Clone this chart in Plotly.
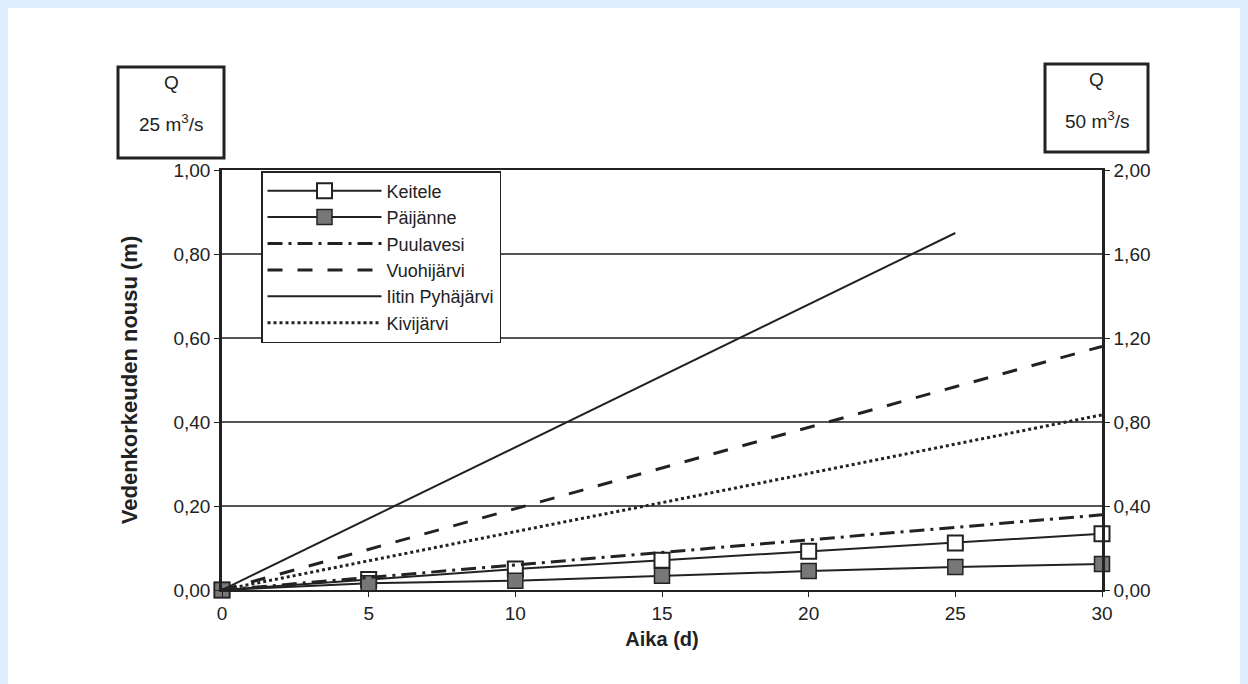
import plotly.graph_objects as go

days = [0, 5, 10, 15, 20, 25, 30]
keitele = [0.0, 0.025, 0.05, 0.071, 0.092, 0.112, 0.134]
paijanne = [0.0, 0.016, 0.022, 0.034, 0.045, 0.055, 0.062]
puulavesi = [0.0, 0.03, 0.06, 0.09, 0.12, 0.15, 0.179]
vuohijarvi = [0.0, 0.097, 0.194, 0.29, 0.387, 0.484, 0.58]
pyh_days = [0, 5, 10, 15, 20, 25]
pyhajarvi = [0.0, 0.17, 0.34, 0.51, 0.68, 0.85]
kivijarvi = [0.0, 0.07, 0.139, 0.208, 0.278, 0.347, 0.417]

left_ticks = [0, 0.2, 0.4, 0.6, 0.8, 1.0]
right_ticks = [0, 0.4, 0.8, 1.2, 1.6, 2.0]

FONT = "Liberation Sans, Arial, sans-serif"
INK = "#222222"

fig = go.Figure()
fig.add_trace(go.Scatter(x=days, y=keitele, name="Keitele", mode="lines+markers",
                         line=dict(color=INK, width=2),
                         marker=dict(symbol="square", size=15, color="white",
                                     line=dict(color=INK, width=2)), cliponaxis=False))
fig.add_trace(go.Scatter(x=days, y=paijanne, name="Päijänne", mode="lines+markers",
                         line=dict(color=INK, width=2),
                         marker=dict(symbol="square", size=15, color="#777777",
                                     line=dict(color=INK, width=1.5)), cliponaxis=False))
fig.add_trace(go.Scatter(x=days, y=puulavesi, name="Puulavesi", mode="lines",
                         line=dict(color=INK, width=3, dash="longdashdot")))
fig.add_trace(go.Scatter(x=days, y=vuohijarvi, name="Vuohijärvi", mode="lines",
                         line=dict(color=INK, width=3, dash="longdash")))
fig.add_trace(go.Scatter(x=pyh_days, y=pyhajarvi, name="Iitin Pyhäjärvi", mode="lines",
                         line=dict(color=INK, width=2)))
fig.add_trace(go.Scatter(x=days, y=kivijarvi, name="Kivijärvi", mode="lines",
                         line=dict(color=INK, width=3, dash="dot")))
# invisible trace to activate the right axis
fig.add_trace(go.Scatter(x=[0, 30], y=[0, 2], yaxis="y2", mode="markers",
                         marker=dict(opacity=0), showlegend=False, hoverinfo="skip"))

# page offset: the figure sits at (8, 8) in the browser page
OFF = 8
W, H = 1248, 684
L, R, T, B = 222 - OFF, 1248 - (1102 - OFF), 170 - OFF, 684 - (590 - OFF)
pw, ph = W - L - R, H - T - B

def px(xp):
    return (xp - OFF - L) / pw

def py(yp):
    return (H - B - (yp - OFF)) / ph

fig.update_layout(
    width=W, height=H,
    margin=dict(l=L, r=R, t=T, b=B),
    paper_bgcolor="white", plot_bgcolor="white",
    separators=",.",
    font=dict(family=FONT, size=18, color=INK),
    showlegend=True,
    legend=dict(x=px(261), y=py(171), xanchor="left", yanchor="top",
                bgcolor="white", bordercolor=INK, borderwidth=1.5,
                font=dict(size=18, family=FONT, color=INK),
                itemwidth=114, tracegroupgap=0),
    xaxis=dict(range=[0, 30], tickvals=days, ticks="outside", ticklen=5,
               tickcolor=INK, showline=True, linecolor=INK, linewidth=2,
               mirror=True, showgrid=False, zeroline=False,
               tickfont=dict(size=19),
               title=dict(text="<b>Aika (d)</b>", font=dict(size=20), standoff=9)),
    yaxis=dict(range=[0, 1.0], tickvals=left_ticks, tickformat=".2f",
               ticks="outside", ticklen=5, tickcolor=INK,
               showline=True, linecolor=INK, linewidth=2.5,
               showgrid=True, gridcolor="#555555", gridwidth=1.5, zeroline=False,
               tickfont=dict(size=19),
               title=dict(text="<b>Vedenkorkeuden nousu (m)</b>", font=dict(size=22), standoff=30)),
    yaxis2=dict(range=[0, 2.0], tickvals=right_ticks, tickformat=".2f",
                overlaying="y", side="right", ticks="outside", ticklen=5,
                tickcolor=INK, showline=True, linecolor=INK, linewidth=2.5,
                showgrid=False, zeroline=False, tickfont=dict(size=19)),
)

# Q boxes
for x0, x1, y0, y1, label in [(118, 224, 67, 158, "25"), (1045, 1148, 64, 152, "50")]:
    fig.add_shape(type="rect", xref="paper", yref="paper",
                  x0=px(x0), x1=px(x1), y0=py(y1), y1=py(y0),
                  line=dict(color=INK, width=3), fillcolor="white")
    fig.add_annotation(xref="paper", yref="paper", x=px((x0 + x1) / 2),
                       y=py(y0 + 15), showarrow=False, text="Q",
                       font=dict(size=19, family=FONT, color=INK),
                       xanchor="center", yanchor="middle")
    fig.add_annotation(xref="paper", yref="paper", x=px((x0 + x1) / 2),
                       y=py(y0 + 56), showarrow=False,
                       text=f"{label} m<sup>3</sup>/s",
                       font=dict(size=19, family=FONT, color=INK),
                       xanchor="center", yanchor="middle")

fig.write_html("out.html",
               post_script="document.body.style.background='#dfeeff';")
